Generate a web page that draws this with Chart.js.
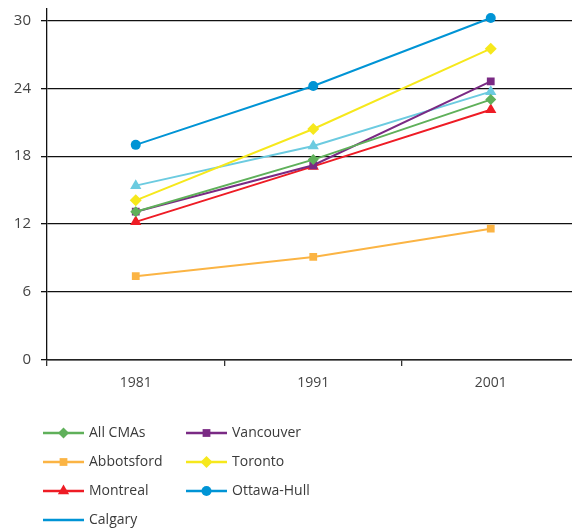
<!DOCTYPE html>
<html>
<head>
<meta charset="utf-8">
<script src="https://cdn.jsdelivr.net/npm/chart.js@4.4.1/dist/chart.umd.min.js"></script>
<style>
  html, body { margin: 0; padding: 0; background: #fff; overflow: hidden; }
  #wrap { width: 586px; height: 529px; }
</style>
</head>
<body>
<div id="wrap"><canvas id="myChart" width="586" height="529"></canvas></div>
<script>
// census years on the x axis
var years = ['1981', '1991', '2001']

// series values, one per CMA
var allCmas = [13.1, 17.7, 23.0]
var vancouver = [13.1, 17.2, 24.6]
var abbotsford = [7.4, 9.1, 11.6]
var toronto = [14.1, 20.4, 27.5]
var montreal = [12.2, 17.1, 22.1]
var ottawaHull = [19.0, 24.2, 30.2]
var calgary = [15.4, 18.9, 23.7]

var yTicks = [0, 6, 12, 18, 24, 30]

var font = '"Open Sans", "DejaVu Sans", sans-serif'

function series (label, data, color, style, radius, legendColor, legendMarker) {
  return {
    label: label,
    data: data,
    borderColor: color,
    backgroundColor: color,
    borderWidth: 2,
    pointStyle: style,
    pointRadius: radius,
    pointHoverRadius: radius,
    pointBorderWidth: 0,
    tension: 0,
    legendColor: legendColor || color,
    legendMarker: legendMarker !== false
  }
}

var datasets = [
  series('All CMAs', allCmas, '#5fb05a', 'rectRot', 5.5),
  series('Vancouver', vancouver, '#7a2a84', 'rect', 5.5),
  series('Abbotsford', abbotsford, '#fbb444', 'rect', 5.5),
  series('Toronto', toronto, '#f6e81c', 'rectRot', 6),
  series('Montreal', montreal, '#ee1c25', 'triangle', 6.5),
  series('Ottawa-Hull', ottawaHull, '#0094d5', 'circle', 5),
  series('Calgary', calgary, '#6ccbe0', 'triangle', 6.5, '#0094d5', false)
]

// legend below the plot: two columns, line with marker in the middle
var lineLegend = {
  id: 'lineLegend',
  afterDraw (chart) {
    var ctx = chart.ctx
    var cols = [43, 186]
    var rowY = [433, 462, 491, 520]
    chart.data.datasets.forEach(function (ds, i) {
      var x = cols[i % 2]
      var y = rowY[Math.floor(i / 2)]
      ctx.save()
      ctx.strokeStyle = ds.legendColor
      ctx.lineWidth = 2.5
      ctx.beginPath()
      ctx.moveTo(x, y)
      ctx.lineTo(x + 41, y)
      ctx.stroke()
      if (ds.legendMarker) {
        ctx.fillStyle = ds.legendColor
        Chart.helpers.drawPoint(ctx, {
          pointStyle: ds.pointStyle,
          radius: ds.pointRadius,
          rotation: 0,
          borderWidth: 0
        }, x + 20.5, y)
      }
      ctx.fillStyle = '#3a3a3a'
      ctx.font = '14px ' + font
      ctx.textBaseline = 'middle'
      ctx.fillText(ds.label, x + 46, y)
      ctx.restore()
    })
  }
}

var chart = new Chart(document.getElementById('myChart').getContext('2d'), {
  type: 'line',
  data: { labels: years, datasets: datasets },
  options: {
    responsive: false,
    animation: false,
    layout: { padding: { top: 9, right: 1, left: 0, bottom: 0 } },
    plugins: {
      legend: { display: false },
      tooltip: { enabled: false }
    },
    scales: {
      x: {
        offset: true,
        grid: {
          offset: true,
          drawOnChartArea: false,
          drawTicks: true,
          tickLength: 6,
          color: '#333',
          lineWidth: 1.3
        },
        border: { color: '#222', width: 1.5 },
        ticks: {
          color: '#444',
          font: { family: font, size: 14 },
          padding: 9,
          maxRotation: 0
        },
        afterFit (scale) { scale.height = 169 }
      },
      y: {
        min: 0,
        max: 31,
        grid: {
          color: '#111',
          lineWidth: 1.3,
          tickLength: 6
        },
        border: { color: '#111', width: 1.3 },
        ticks: {
          stepSize: 6,
          color: '#444',
          font: { family: font, size: 15 },
          padding: 10
        },
        afterBuildTicks (scale) {
          scale.ticks = yTicks.map(function (v) { return { value: v } })
        },
        afterFit (scale) {
          scale.width = 47
          scale.paddingTop = 0
          scale.paddingBottom = 0
        }
      }
    }
  },
  plugins: [lineLegend]
})
</script>
</body>
</html>
